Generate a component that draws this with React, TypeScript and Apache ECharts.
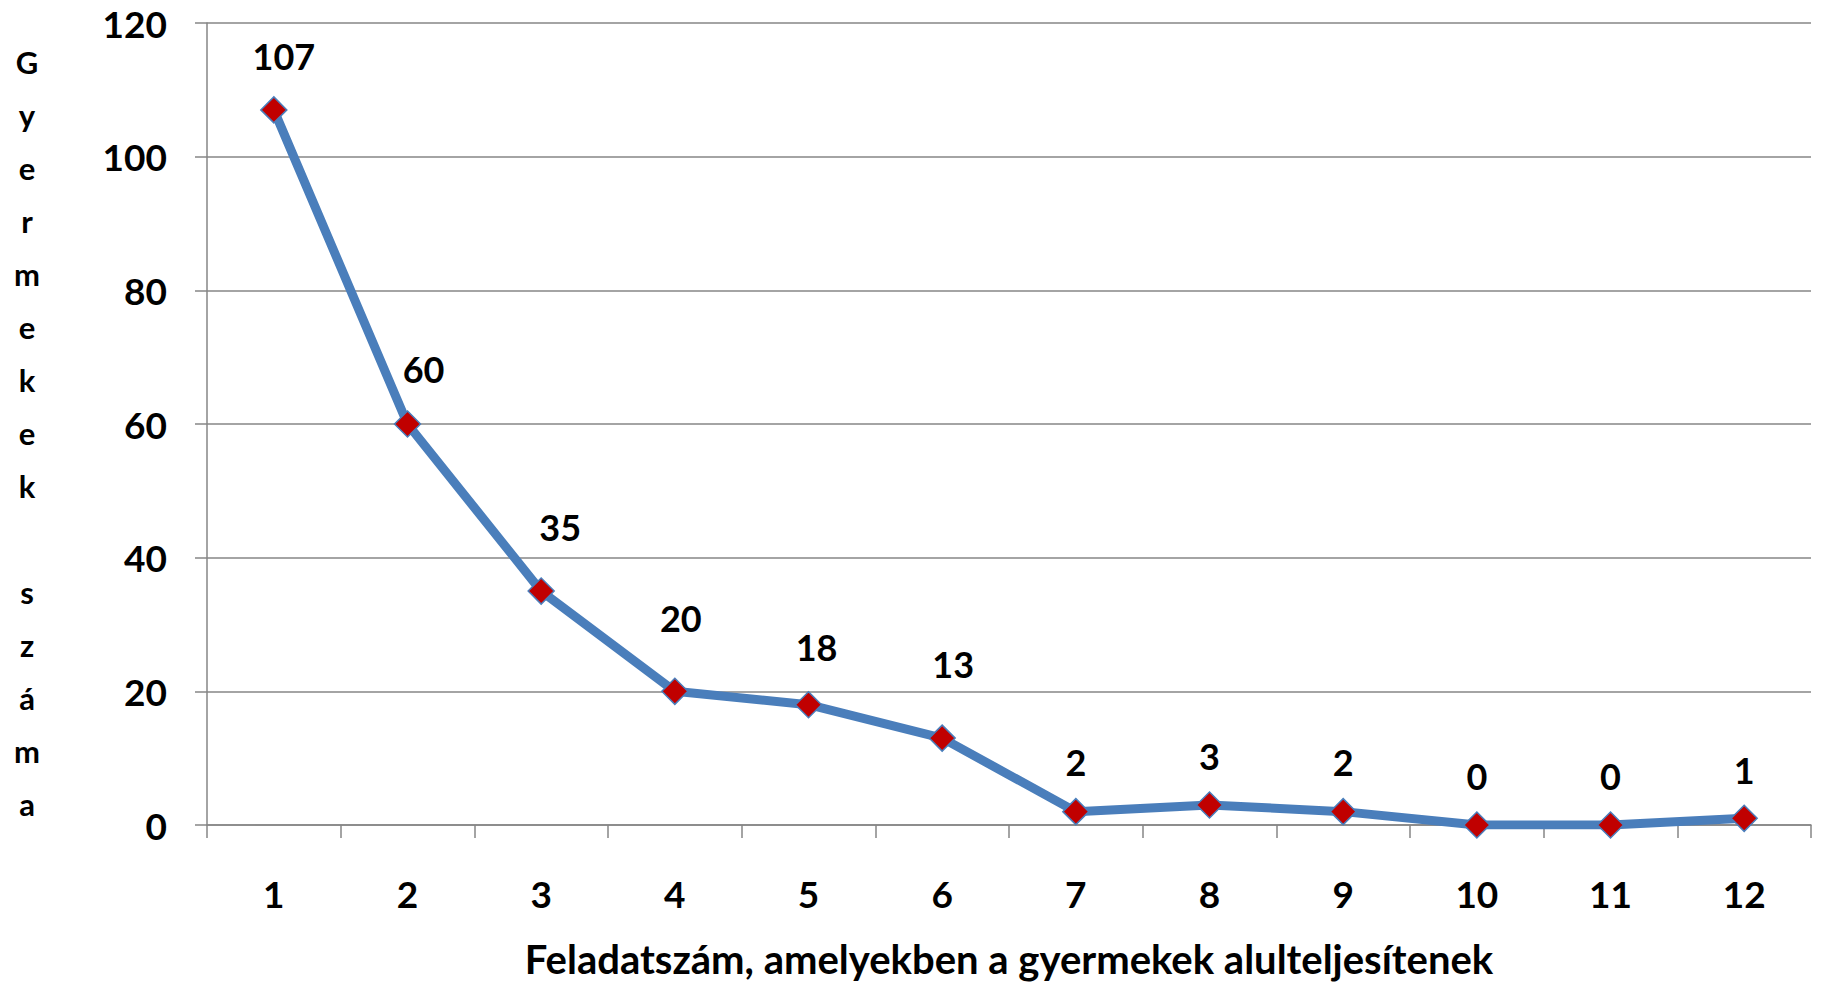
import React, { useEffect, useRef } from "react";
import * as echarts from "echarts";

const categories = ["1", "2", "3", "4", "5", "6", "7", "8", "9", "10", "11", "12"];
const values = [107, 60, 35, 20, 18, 13, 2, 3, 2, 0, 0, 1];
// manual nudges of the value labels (as placed in the original chart), in px
const labelNudgeX = [10, 16, 19, 6, 8, 11, 0, 0, 0, 0, 0, 0];
const labelNudgeY = [0, -1, -10, -20, -4, -20, 4, 5, 4, 5, 5, 5];
const yTicks = { min: 0, max: 120, interval: 20 };
const xTitle = "Feladatszám, amelyekben a gyermekek alulteljesítenek";
const yTitle = "Gyermekek száma";

const FONT = "Lato, 'Noto Sans', sans-serif";

export default function App() {
  const ref = useRef<HTMLDivElement>(null);
  useEffect(() => {
    document.body.style.margin = "0";
    if (!ref.current) return;
    const chart = echarts.init(ref.current, undefined, { renderer: "svg" });
    const verticalName = yTitle.split("").join("\n");
    const seriesData = values.map((v, i) => ({
      value: v,
      label: { offset: [labelNudgeX[i], labelNudgeY[i]] },
    }));
    chart.setOption({
      animation: false,
      backgroundColor: "#ffffff",
      grid: {
        left: 207,
        right: 11,
        top: 23,
        bottom: 161,
        containLabel: false,
        outerBoundsMode: "none",
      },
      graphic: [
        {
          type: "text",
          x: 27,
          y: 35,
          style: {
            text: verticalName,
            fontFamily: FONT,
            fontWeight: "bold",
            fontSize: 31,
            lineHeight: 53,
            fill: "#000",
            textAlign: "center",
            textVerticalAlign: "top",
          },
        },
      ],
      xAxis: {
        type: "category",
        data: categories,
        boundaryGap: true,
        name: xTitle,
        nameLocation: "middle",
        nameGap: 112,
        nameTextStyle: { fontFamily: FONT, fontWeight: "bold", fontSize: 40, lineHeight: 44, color: "#000" },
        axisLine: { lineStyle: { color: "#868686", width: 1.5 } },
        axisTick: { show: true, length: 13, lineStyle: { color: "#868686", width: 1.5 } },
        axisLabel: { margin: 50, fontFamily: FONT, fontWeight: "bold", fontSize: 37, color: "#000" },
        splitLine: { show: false },
      },
      yAxis: {
        type: "value",
        min: yTicks.min,
        max: yTicks.max,
        interval: yTicks.interval,
        axisLine: { show: true, lineStyle: { color: "#868686", width: 1.5 } },
        axisTick: { show: true, length: 12, lineStyle: { color: "#868686", width: 1.5 } },
        axisLabel: { margin: 40, fontFamily: FONT, fontWeight: "bold", fontSize: 37, color: "#000" },
        splitLine: { show: true, lineStyle: { color: "#868686", width: 1.5 } },
      },
      series: [
        {
          type: "line",
          data: seriesData,
          lineStyle: { color: "#4a7ebb", width: 9 },
          symbol: "diamond",
          symbolSize: 26,
          itemStyle: { color: "#c00000", borderColor: "#4a7ebb", borderWidth: 1.5 },
          label: {
            show: true,
            position: "top",
            distance: 22,
            fontFamily: FONT,
            fontWeight: "bold",
            fontSize: 36,
            color: "#000",
          },
        },
      ],
    });
    return () => chart.dispose();
  }, []);
  return (
    <div
      ref={ref}
      style={{ position: "absolute", left: 0, top: 0, width: 1822, height: 986 }}
    />
  );
}
